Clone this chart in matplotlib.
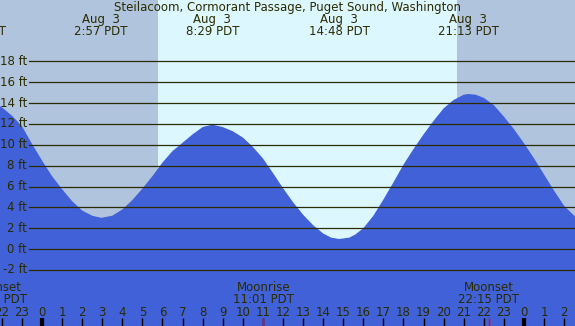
"""Tide chart: Steilacoom, Cormorant Passage, Aug 3."""

import numpy as np
import matplotlib
matplotlib.use("Agg")
import matplotlib.pyplot as plt

TITLE = "Steilacoom, Cormorant Passage, Puget Sound, Washington"

# tide height (ft), hours from midnight Aug 3
HOURS = [-3, -2.5, -2, -1.5, -1, -0.5, 0, 0.5, 1, 1.5, 2, 2.5, 2.95, 3.5, 4, 4.5,
         5, 5.5, 6, 6.5, 7, 7.5, 8, 8.48, 9, 9.5, 10, 10.5, 11, 11.5, 12, 12.5,
         13, 13.5, 14, 14.4, 14.8, 15.3, 15.6, 16, 16.5, 17, 17.5, 18, 18.5, 19,
         19.5, 20, 20.5, 21, 21.22, 21.6, 22, 22.5, 23, 23.5, 24, 24.5, 25, 25.5,
         26, 26.5, 27]
HEIGHTS = [14.4, 14.1, 13.6, 12.8, 11.8, 10.1, 8.5, 7.0, 5.75, 4.6, 3.7, 3.2, 3.0,
           3.2, 3.8, 4.7, 5.8, 7.0, 8.3, 9.4, 10.2, 11.0, 11.7, 11.93, 11.7, 11.3,
           10.7, 9.8, 8.7, 7.3, 5.85, 4.5, 3.3, 2.3, 1.5, 1.1, 0.97, 1.1, 1.4, 2.0,
           3.2, 4.75, 6.4, 8.1, 9.6, 11.0, 12.3, 13.5, 14.3, 14.8, 14.87, 14.8,
           14.5, 13.8, 12.7, 11.5, 10.15, 8.7, 7.15, 5.6, 4.15, 3.2, 2.4]

# highs / lows labels
EXT_HOURS = [-3.3, 2.95, 8.48, 14.8, 21.22]
EXT_DATES = ["Aug  2", "Aug  3", "Aug  3", "Aug  3", "Aug  3"]
EXT_TIMES = ["20:42 PDT", "2:57 PDT", "8:29 PDT", "14:48 PDT", "21:13 PDT"]

# moon events
MOON_HOURS = [-2.25, 11.02, 22.25]
MOON_NAMES = ["Moonset", "Moonrise", "Moonset"]
MOON_TIMES = ["21:45 PDT", "11:01 PDT", "22:15 PDT"]

SUNRISE, SUNSET = 5.78, 20.67
GRID_FT = list(range(-2, 19, 2))
HOUR_TICKS = list(range(-2, 27))

X0, X1 = -2.09, 26.54
Y0, Y1 = -7.37, 23.88

TXT = "#2b2b00"
fs = 8.5

fig = plt.figure(figsize=(5.75, 3.26), dpi=100)
ax = fig.add_axes([0, 0, 1, 1])
ax.set_xlim(X0, X1)
ax.set_ylim(Y0, Y1)
ax.axis("off")

ax.axvspan(X0, SUNRISE, color="#b0c4de", lw=0)
ax.axvspan(SUNRISE, SUNSET, color="#ddf7fe", lw=0)
ax.axvspan(SUNSET, X1, color="#b0c4de", lw=0)

ax.fill_between(HOURS, HEIGHTS, Y0, color="#4161d8", lw=0, zorder=2)

# grid lines and labels
x_grid = X0 + (X1 - X0) * 29 / 575
for ft in GRID_FT:
    ax.plot([x_grid, X1], [ft, ft], color="#2b2b00", lw=0.9, zorder=3)
    ax.text(X0 + (X1 - X0) * 27 / 575, ft, f"{ft} ft", ha="right", va="center",
            fontsize=fs, color=TXT, zorder=4)

ax.text((X0 + X1) / 2, Y1 - 0.72, TITLE, ha="center", va="center", fontsize=fs, color=TXT)
for h, d, t in zip(EXT_HOURS, EXT_DATES, EXT_TIMES):
    ax.text(h, Y1 - 1.9, d, ha="center", va="center", fontsize=fs, color=TXT)
    ax.text(h, Y1 - 3.05, t, ha="center", va="center", fontsize=fs, color=TXT)

for h, n, t in zip(MOON_HOURS, MOON_NAMES, MOON_TIMES):
    ax.text(h, -3.65, n, ha="center", va="center", fontsize=fs, color=TXT, zorder=4)
    ax.text(h, -4.8, t, ha="center", va="center", fontsize=fs, color=TXT, zorder=4)

# hour ticks along the bottom
px = (Y1 - Y0) / 326
for h in HOUR_TICKS:
    ax.text(h, Y0 + 14 * px, str(h % 24), ha="center", va="center", fontsize=fs,
            color=TXT, zorder=4)
    lw = 3 if h % 24 == 0 else 1
    ax.plot([h, h], [Y0, Y0 + 8 * px], color="black", lw=lw, zorder=4,
            solid_capstyle="butt")
for h in MOON_HOURS:
    ax.plot([h, h], [Y0, Y0 + 8 * px], color="red", lw=1, zorder=5,
            solid_capstyle="butt")

fig.savefig("out.png", dpi=100)
